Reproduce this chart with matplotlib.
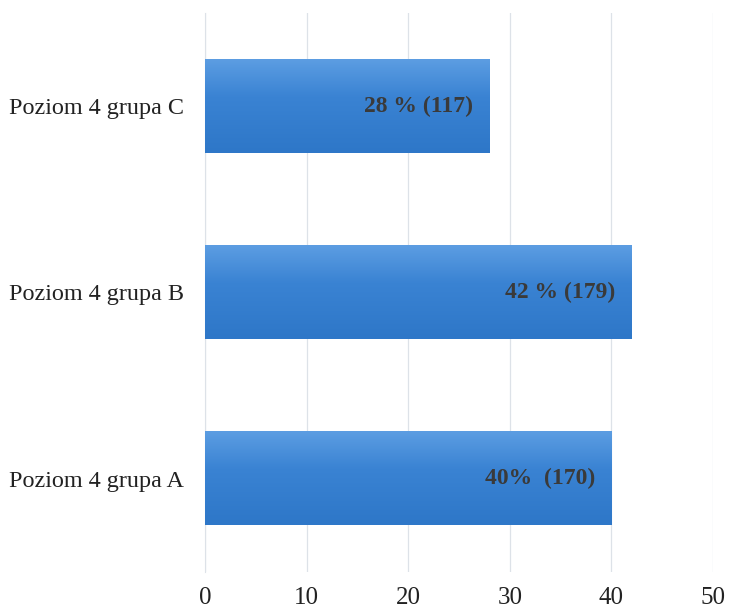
import numpy as np
import matplotlib.pyplot as plt
from matplotlib.colors import LinearSegmentedColormap

groups = ['Poziom 4 grupa A', 'Poziom 4 grupa B', 'Poziom 4 grupa C']
percent = [40, 42, 28]
labels = ['40%  (170)', '42 % (179)', '28 % (117)']
xticks = [0, 10, 20, 30, 40, 50]

plt.rcParams['font.family'] = ['Liberation Serif', 'DejaVu Serif']

fig = plt.figure(figsize=(7.29, 6.12), dpi=100)
ax = fig.add_axes([0.2812, 0.0654, 0.6968, 0.9134])

ypos = np.arange(len(groups))
bar_h = 0.5
bars = ax.barh(ypos, percent, height=bar_h, color='#3b82d0', zorder=2)

# vertical gradient on each bar, lighter at the top
grad = LinearSegmentedColormap.from_list(
    'bar', [(0, '#2e77c8'), (0.6, '#3a83d3'), (1, '#5c9de2')])
g = np.linspace(0, 1, 100).reshape(-1, 1)
for b in bars:
    x0, y0 = b.get_x(), b.get_y()
    w, h = b.get_width(), b.get_height()
    ax.imshow(g, cmap=grad, aspect='auto', origin='lower',
              extent=(x0, x0 + w, y0, y0 + h), zorder=3)

for y, v, lab in zip(ypos, percent, labels):
    ax.text(v - 1.6, y, lab, ha='right', va='center', fontsize=17,
            fontweight='bold', color='#3a3a3a', zorder=4)

ax.set_xlim(0, 50)
ax.set_ylim(-0.5, 2.5)
ax.set_xticks(xticks)
ax.set_yticks(ypos)
ax.set_yticklabels(groups)
ax.tick_params(axis='both', length=0, colors='#222222')
ax.tick_params(axis='x', pad=11, labelsize=18)
ax.tick_params(axis='y', pad=15, labelsize=17.4)
ax.grid(axis='x', color='#dde2e8', linewidth=0.9, zorder=0)
for s in ['top', 'right', 'bottom']:
    ax.spines[s].set_visible(False)
ax.spines['left'].set_color('#dde2e8')

fig.savefig('out.png', dpi=100)
